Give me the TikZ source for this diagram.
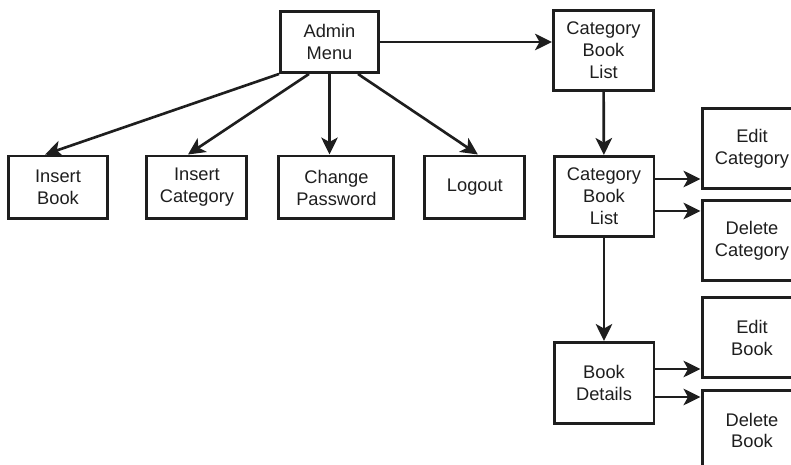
\documentclass[tikz,border=0pt]{standalone}
\usepackage{fontspec}
\setmainfont{Liberation Sans}
\usetikzlibrary{arrows.meta,positioning}
\definecolor{BoxInk}{RGB}{30,30,30}
\tikzset{
  menubox/.style={draw=BoxInk, line width=1.7pt, text=BoxInk, align=center, inner sep=2pt,
    minimum width=2cm, minimum height=1.26cm, font=\fontsize{10.4}{12.5}\selectfont},
  tallbox/.style={menubox, minimum height=1.6cm},
  navarr/.style={-{Stealth[length=3.4mm, width=3.3mm, inset=0.9mm]}, draw=BoxInk, line width=1.5pt},
}
\begin{document}
\begin{tikzpicture}[x=0.02cm, y=-0.02cm]
  \useasboundingbox (0,0) rectangle (791,465);
  % top
  \node[menubox, minimum width=1.96cm, minimum height=1.22cm] (admin) at (329.5,42) {Admin\\ Menu};
  % bottom row
  \node[menubox] (insbook) at (58,187.5) {Insert\\ Book};
  \node[menubox, right=0.72cm of insbook] (inscat) {Insert\\ Category};
  \node[menubox, minimum width=2.3cm, right=0.58cm of inscat] (chgpwd) {Change\\ Password};
  \node[menubox, right=0.56cm of chgpwd] (logout) {Logout};
  % right column
  \node[tallbox] (catlist) at (603.5,50.5) {Category\\ Book\\ List};
  \node[tallbox] (catlist2) at (604,196.5) {Category\\ Book\\ List};
  \node[tallbox, minimum height=1.62cm] (bookdet) at (604,383) {Book\\ Details};
  \node[tallbox] (editcat) at (752,148.5) {Edit\\ Category};
  \node[tallbox, below=0.18cm of editcat] (delcat) {Delete\\ Category};
  \node[tallbox] (editbook) at (752,337.5) {Edit\\ Book};
  \node[tallbox, below=0.2cm of editbook] (delbook) {Delete\\ Book};
  % arrows
  \draw[navarr] (admin.south west) -- ([xshift=-0.26cm]insbook.north);
  \draw[navarr] ([xshift=-0.41cm]admin.south) -- ([xshift=-0.18cm]inscat.north);
  \draw[navarr] (admin.south) -- (admin.south |- chgpwd.north);
  \draw[navarr] ([xshift=0.57cm]admin.south) -- ([xshift=0.06cm]logout.north);
  \draw[navarr] (admin.east) -- (admin.east -| catlist.west);
  \draw[navarr] (catlist) -- (catlist2);
  \draw[navarr] ([yshift=0.35cm]catlist2.east) coordinate (c1) -- (c1 -| editcat.west);
  \draw[navarr] ([yshift=-0.29cm]catlist2.east) coordinate (c2) -- (c2 -| delcat.west);
  \draw[navarr] (catlist2) -- (bookdet);
  \draw[navarr] ([yshift=0.28cm]bookdet.east) coordinate (c3) -- (c3 -| editbook.west);
  \draw[navarr] ([yshift=-0.28cm]bookdet.east) coordinate (c4) -- (c4 -| delbook.west);
\end{tikzpicture}
\end{document}
